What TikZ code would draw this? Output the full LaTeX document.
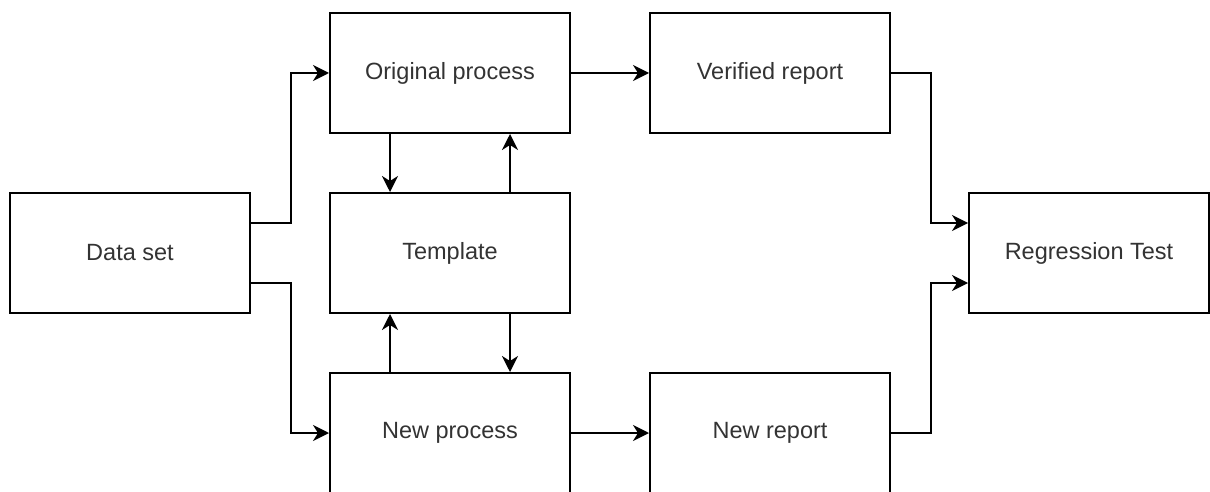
\documentclass[tikz,border=0pt]{standalone}
\usepackage{fontspec}
\setmainfont{Liberation Sans}
\usetikzlibrary{arrows.meta}
\definecolor{labelgray}{HTML}{333333}
\tikzset{
  block/.style={draw=black, line width=1pt, fill=white, minimum width=120pt,
    minimum height=60pt, inner sep=0pt, text=labelgray,
    font=\fontsize{11.75}{14}\selectfont},
  link/.style={draw=black, line width=1pt,
    -{Stealth[length=8pt,width=8pt,inset=2.5pt]}},
}
\begin{document}
\begin{tikzpicture}[x=0.5pt,y=-0.5pt]
  \useasboundingbox (0,0) rectangle (1210,492);
  \clip (0,0) rectangle (1210,492);

  % boxes
  \node[block] (data)  at (130,253)  {Data set};
  \node[block] (orig)  at (450,73)   {Original process};
  \node[block] (tmpl)  at (450,253)  {Template};
  \node[block] (newp)  at (450,433)  {New process};
  \node[block] (verif) at (770,73)   {Verified report};
  \node[block] (newr)  at (770,433)  {New report};
  \node[block] (reg)   at (1089,253) {Regression Test};

  % data set feeds both processes
  \draw[link] ([yshift=15pt]data.east) -- ++(20pt,0) |- (orig.west);
  \draw[link] ([yshift=-15pt]data.east) -- ++(20pt,0) |- (newp.west);

  % exchange with the template
  \draw[link] ([xshift=-30pt]orig.south) -- ([xshift=-30pt]tmpl.north);
  \draw[link] ([xshift=30pt]tmpl.north) -- ([xshift=30pt]orig.south);
  \draw[link] ([xshift=-30pt]newp.north) -- ([xshift=-30pt]tmpl.south);
  \draw[link] ([xshift=30pt]tmpl.south) -- ([xshift=30pt]newp.north);

  % reports
  \draw[link] (orig.east) -- (verif.west);
  \draw[link] (newp.east) -- (newr.west);

  % into the regression test
  \draw[link] (verif.east) -- ++(20pt,0) |- ([yshift=15pt]reg.west);
  \draw[link] (newr.east) -- ++(20pt,0) |- ([yshift=-15pt]reg.west);
\end{tikzpicture}
\end{document}
